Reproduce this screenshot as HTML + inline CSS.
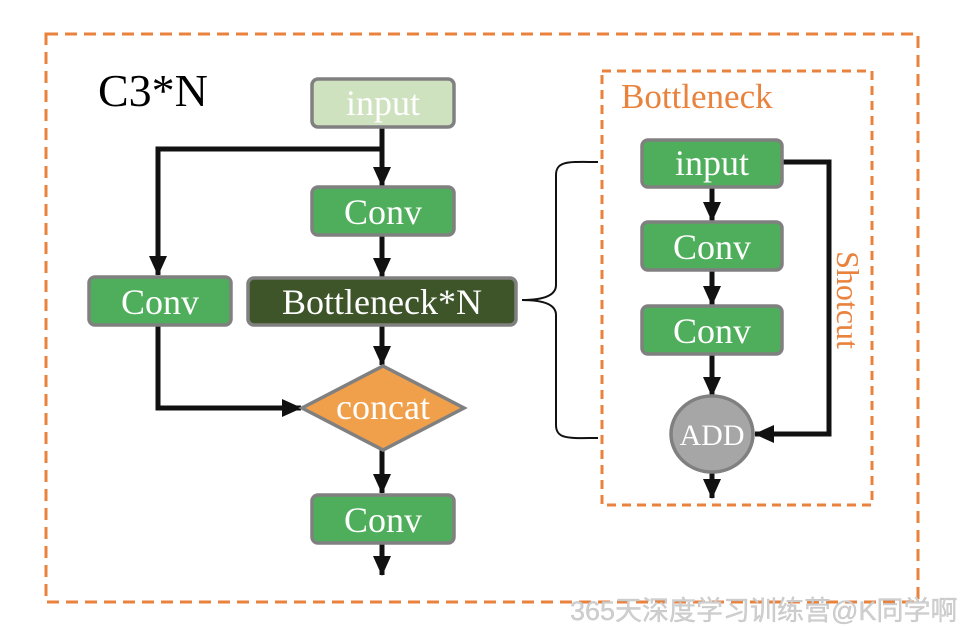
<!DOCTYPE html>
<html><head><meta charset="utf-8"><style>
body{margin:0;background:#fff;width:965px;height:628px;overflow:hidden}
text{font-family:"Liberation Serif",serif}
</style></head><body>
<svg width="965" height="628" viewBox="0 0 965 628" xmlns="http://www.w3.org/2000/svg">
<defs>
<marker id="b" markerWidth="20" markerHeight="18" refX="19" refY="9" orient="auto" markerUnits="userSpaceOnUse"><path d="M0,0 L20,9 L0,18 z" fill="#111"/></marker></defs>
<rect x="46" y="34" width="872" height="568" fill="none" stroke="#e8823d" stroke-width="3" stroke-dasharray="12,7"/>
<rect x="602" y="71" width="270" height="434" fill="none" stroke="#e8823d" stroke-width="3" stroke-dasharray="9,6"/>
<text x="98" y="106" font-size="46" fill="#000">C3*N</text>
<text x="621" y="108" font-size="35" fill="#e8823d">Bottleneck</text>
<g stroke="#111" stroke-width="5" fill="none">
<path d="M382,127 V186" marker-end="url(#b)"/>
<path d="M382,149 H158 V275" marker-end="url(#b)"/>
<path d="M382,235 V277" marker-end="url(#b)"/>
<path d="M382,325 V365" marker-end="url(#b)"/>
<path d="M158,325 V408 H301" marker-end="url(#b)"/>
<path d="M382,450 V493" marker-end="url(#b)"/>
<path d="M382,543 V575" marker-end="url(#b)"/>
<path d="M712,187 V221" marker-end="url(#b)"/>
<path d="M712,270 V305" marker-end="url(#b)"/>
<path d="M712,354 V396" marker-end="url(#b)"/>
<path d="M712,472 V498" marker-end="url(#b)"/>
<path d="M782,162 H829 V434 H755" marker-end="url(#b)"/>
</g>
<path d="M598,162 C570,162 556,160 556,175 V285 C556,297 540,300 522,300 C540,300 556,303 556,315 V425 C556,440 570,438 598,438" fill="none" stroke="#111" stroke-width="2"/>
<g stroke="#808080" stroke-width="3.5">
<rect x="312" y="79" width="142" height="48" rx="6" fill="#cfe2bf"/>
<rect x="312" y="187" width="142" height="48" rx="6" fill="#4fae5b"/>
<rect x="89" y="277" width="142" height="48" rx="6" fill="#4fae5b"/>
<rect x="248" y="278" width="268" height="47" rx="6" fill="#3e552a"/>
<path d="M383,366 L464,408 L383,450 L302,408 z" fill="#f0a04b"/>
<rect x="312" y="495" width="142" height="48" rx="6" fill="#4fae5b"/>
<rect x="642" y="140" width="140" height="47" rx="6" fill="#4fae5b"/>
<rect x="642" y="222" width="140" height="48" rx="6" fill="#4fae5b"/>
<rect x="642" y="306" width="140" height="48" rx="6" fill="#4fae5b"/>
<ellipse cx="712" cy="434" rx="41" ry="38" fill="#a6a6a6"/>
</g>
<g fill="#fff" font-size="36" text-anchor="middle">
<text x="383" y="115">input</text>
<text x="383" y="224">Conv</text>
<text x="160" y="314">Conv</text>
<text x="382" y="314">Bottleneck*N</text>
<text x="383" y="419">concat</text>
<text x="383" y="532">Conv</text>
<text x="712" y="175">input</text>
<text x="712" y="259">Conv</text>
<text x="712" y="343">Conv</text>
<text x="712" y="445" font-size="30">ADD</text>
</g>
<text x="0" y="0" font-size="32" fill="#e8823d" text-anchor="middle" transform="translate(837,300) rotate(90)">Shotcut</text>
<text x="570" y="620" font-size="27" fill="#cfcfcf" stroke="#bdbdbd" stroke-width="0.3" style='font-family:"Liberation Sans","Noto Sans CJK SC",sans-serif'>365天深度学习训练营@K同学啊</text>
</svg>
</body></html>
